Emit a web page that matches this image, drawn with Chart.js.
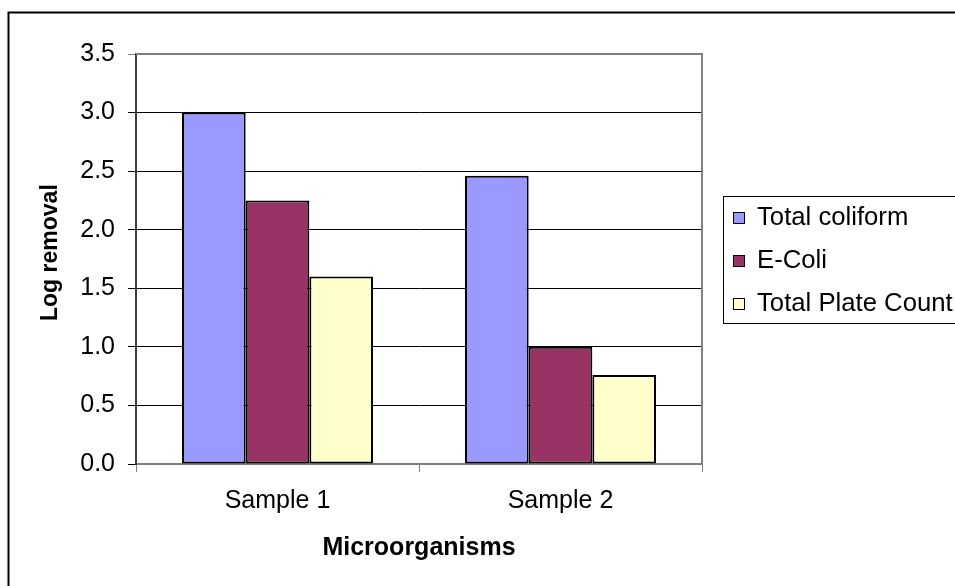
<!DOCTYPE html>
<html>
<head>
<meta charset="utf-8">
<script src="https://cdn.jsdelivr.net/npm/chart.js@4"></script>
<style>
  html, body { margin: 0; padding: 0; background: #fff; overflow: hidden; }
  #wrap { width: 955px; height: 586px; }
</style>
</head>
<body>
<div id="wrap"><canvas id="grafico" width="955" height="586"></canvas></div>
<script>
// datos
var categorias = ['Sample 1', 'Sample 2'];
var series = ['Total coliform', 'E-Coli', 'Total Plate Count'];
var totalColiform = [3.0, 2.46];
var eColi = [2.25, 1.0];
var plateCount = [1.6, 0.76];
var colores = ['#9999FF', '#993366', '#FFFFCC'];

var fuente = "'Liberation Sans', Arial, sans-serif";

// marco exterior, borde del area de trazado y leyenda
var marcos = {
    id: 'marcos',
    beforeDraw: function (chart) {
        var ctx = chart.ctx;
        ctx.save();
        ctx.fillStyle = '#fff';
        ctx.fillRect(0, 0, chart.width, chart.height);
        ctx.strokeStyle = '#000';
        ctx.lineWidth = 2;
        ctx.strokeRect(8.5, 12.5, 1200, 1200);
        ctx.restore();
    },
    afterDraw: function (chart) {
        var ctx = chart.ctx;
        var a = chart.chartArea;
        ctx.save();
        ctx.strokeStyle = '#808080';
        ctx.lineWidth = 2;
        ctx.beginPath();
        ctx.moveTo(a.left, a.top);
        ctx.lineTo(a.right, a.top);
        ctx.lineTo(a.right, a.bottom);
        ctx.stroke();

        // leyenda
        ctx.strokeStyle = '#000';
        ctx.lineWidth = 1;
        ctx.strokeRect(723.5, 196.5, 300, 127);
        ctx.font = '25.7px ' + fuente;
        ctx.textBaseline = 'middle';
        ctx.textAlign = 'left';
        chart.data.datasets.forEach(function (ds, i) {
            var y = 218 + i * 43;
            ctx.fillStyle = ds.backgroundColor;
            ctx.fillRect(733, y - 5, 11, 11);
            ctx.strokeRect(733.5, y - 5.5, 11, 11);
            ctx.fillStyle = '#000';
            ctx.fillText(ds.label, 757, y);
        });
        ctx.restore();
    }
};

var ctx = document.getElementById('grafico').getContext('2d');
var chart = new Chart(ctx, {
    type: 'bar',
    data: {
        labels: categorias,
        datasets: [
            { label: series[0], data: totalColiform, backgroundColor: colores[0] },
            { label: series[1], data: eColi, backgroundColor: colores[1] },
            { label: series[2], data: plateCount, backgroundColor: colores[2] }
        ].map(function (d) {
            d.borderColor = '#000';
            d.borderWidth = 2;
            d.borderSkipped = false;
            d.categoryPercentage = 0.675;
            d.barPercentage = 1.0;
            return d;
        })
    },
    options: {
        responsive: false,
        animation: false,
        layout: { padding: { left: 0, top: 54, right: 253, bottom: 0 } },
        plugins: {
            legend: { display: false },
            tooltip: { enabled: false }
        },
        scales: {
            x: {
                grid: { display: true, drawOnChartArea: false, offset: true, color: '#808080', tickLength: 8, lineWidth: 1 },
                border: { color: '#808080', width: 2 },
                ticks: { color: '#000', padding: 14, font: { family: fuente, size: 25 } },
                title: { display: true, text: 'Microorganisms', color: '#000', padding: { top: 0, bottom: 23 }, font: { family: fuente, size: 25, weight: 'bold' } },
                afterFit: function (s) { s.height = 122; }
            },
            y: {
                min: 0,
                max: 3.5,
                grid: {
                    color: function (c) { return c.tick && c.tick.value >= 3.5 ? '#808080' : '#000'; },
                    tickLength: 8,
                    lineWidth: 1
                },
                border: { color: '#404040', width: 2 },
                ticks: {
                    stepSize: 0.5,
                    color: '#000',
                    padding: 13,
                    font: { family: fuente, size: 25 },
                    callback: function (v) { return Number(v).toFixed(1); }
                },
                title: { display: true, text: '  Log removal', color: '#000', padding: { top: 37, bottom: 0 }, font: { family: fuente, size: 23, weight: 'bold' } },
                afterFit: function (s) { s.width = 136; }
            }
        }
    },
    plugins: [marcos]
});
</script>
</body>
</html>
